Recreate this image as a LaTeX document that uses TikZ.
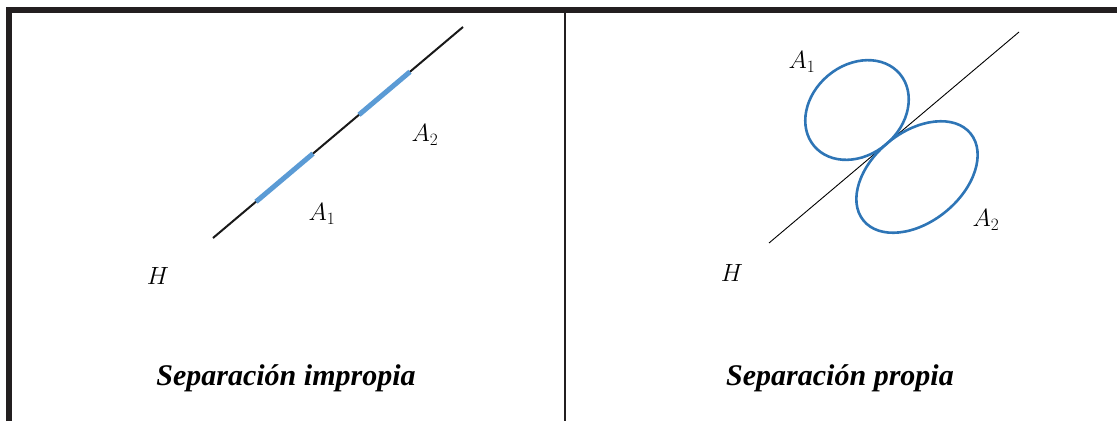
\documentclass[tikz,border=0pt]{standalone}
\usepackage{fontspec}
\newfontfamily\captionfont{Liberation Serif}
\usetikzlibrary{calc}
\definecolor{frame}{HTML}{231F20}
\definecolor{seg}{HTML}{5B9BD5}
\definecolor{blob}{HTML}{2E75B6}

\begin{document}
\begin{tikzpicture}[x=1pt,y=-1pt, caption/.style={font=\captionfont\fontsize{30}{34}\selectfont\bfseries\itshape,inner sep=0pt,anchor=base}, lab/.style={font=\fontsize{24}{28}\selectfont,inner sep=0pt}, rule/.style={draw=frame,line width=6pt}, hyper/.style={line width=2pt,black!90}, piece/.style={line width=5pt,seg}, region/.style={line width=2.6pt,blob}]
  \useasboundingbox (0,0) rectangle (1117,421);
  % frame
  \draw[rule] (9,421) -- (9,10) -- (1117,10);
  \draw[frame,line width=2.5pt] (565,10) -- (565,421);
  % left: improper separation
  \coordinate (hl1) at (213,238);
  \coordinate (hl2) at (463,27);
  \draw[hyper] (hl1) -- (hl2);
  \draw[piece] ($(hl1)!0.172!(hl2)$) -- ($(hl1)!0.400!(hl2)$);
  \draw[piece] ($(hl1)!0.584!(hl2)$) -- ($(hl1)!0.788!(hl2)$);
  \node[lab] (la2) at (425,135) {$A_2$};
  \node[lab] (la1) at (322,214) {$A_1$};
  \node[lab] (lh) at (158,276) {$H$};
  \node[caption] (lcap) at (286,385) {Separación impropia};
  % right: proper separation
  \coordinate (hr1) at (769,243);
  \coordinate (hr2) at (1019,32);
  \draw[black,line width=0.9pt] (hr1) -- (hr2);
  \coordinate (e1) at (857,110);
  \coordinate (e2) at (917,177);
  \draw[region] (e1) ellipse [x radius=56,y radius=45,rotate=40];
  \draw[region] (e2) ellipse [x radius=69,y radius=45,rotate=39];
  \node[lab] (ra1) at (802,62) {$A_1$};
  \node[lab] (ra2) at (986,220) {$A_2$};
  \node[lab] (rh) at (732,273) {$H$};
  \node[caption] (rcap) at (840,385) {Separación propia};
\end{tikzpicture}
\end{document}
